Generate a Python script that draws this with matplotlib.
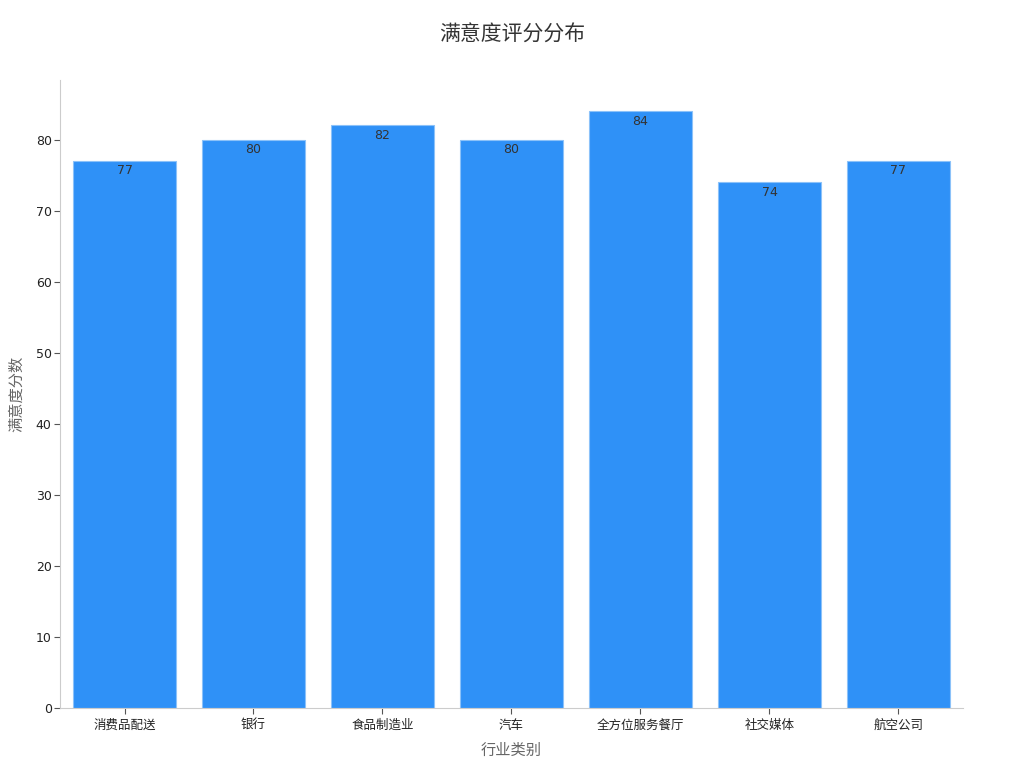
import matplotlib.pyplot as plt

plt.rcParams['font.family'] = ['DejaVu Sans', 'Noto Sans CJK SC']

industries = ["消费品配送", "银行", "食品制造业", "汽车", "全方位服务餐厅", "社交媒体", "航空公司"]
scores = [77, 80, 82, 80, 84, 74, 77]


def main():
    fig = plt.figure(figsize=(10.24, 7.68), dpi=100)
    ax = fig.add_axes([0.0586, 0.078, 0.8818, 0.818])

    x = range(len(industries))
    bars = ax.bar(x, scores, width=0.8, color="#2f91f7", edgecolor="#8cc2f9", linewidth=0.8)

    for rect, v in zip(bars, scores):
        ax.text(rect.get_x() + rect.get_width() / 2, v - 0.5, str(v),
                ha="center", va="top", fontsize=9, color="#333333")

    ax.set_xlim(-0.5, 6.5)
    ax.set_ylim(0, 88.4)
    ax.set_xticks(list(x))
    ax.set_xticklabels(industries, fontsize=9, color="#222222")
    ax.set_yticks(range(0, 90, 10))
    ax.tick_params(axis="y", labelsize=9, colors="#222222", pad=2)
    ax.tick_params(axis="both", color="#555555", length=4)

    for side in ["top", "right"]:
        ax.spines[side].set_visible(False)
    for side in ["left", "bottom"]:
        ax.spines[side].set_color("#cccccc")

    ax.set_xlabel("行业类别", fontsize=11, color="#666666", labelpad=8)
    ax.set_ylabel("满意度分数", fontsize=11, color="#666666", labelpad=8)
    fig.suptitle("满意度评分分布", fontsize=15, color="#333333", y=0.968)

    fig.savefig("out.png", dpi=100)


if __name__ == "__main__":
    main()
